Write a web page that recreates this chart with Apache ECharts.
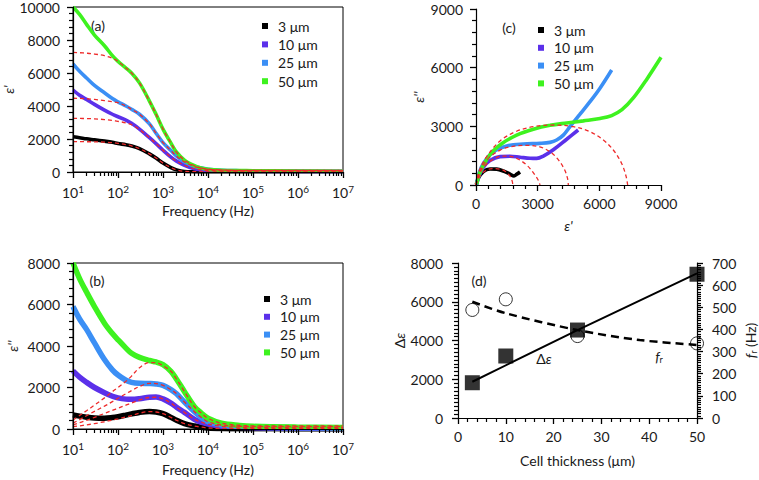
<!DOCTYPE html>
<html><head><meta charset="utf-8">
<script src="https://cdn.jsdelivr.net/npm/echarts@6/dist/echarts.min.js"></script>
<style>html,body{margin:0;padding:0;background:#fff}#c{width:759px;height:480px}</style>
</head><body><div id="c"></div>
<script>
// ---------- data ----------
const thickLabels = ['3 μm', '10 μm', '25 μm', '50 μm'];
const freq = [10,14,20,30,50,75,100,150,200,300,500,700,1000,1500,2000,3000,5000,7000,1e4,2e4,5e4,1e5,1e6,1e7];
// (a) epsilon' measured
const aBlack  = [2140,2080,2010,1950,1870,1800,1730,1650,1580,1420,1100,850,540,270,130,30,10,5,0,0,0,0,0,0];
const aPurple = [4970,4650,4400,4100,3750,3500,3350,3150,2950,2600,2080,1720,1320,900,660,410,190,125,90,60,50,45,35,30];
const aBlue   = [6550,6100,5700,5250,4800,4450,4250,4000,3800,3500,2920,2350,1780,1300,960,610,340,250,170,110,80,70,50,40];
const aGreen  = [10000,9550,8950,8300,7650,7050,6700,6300,6000,5400,4300,3500,2600,1750,1200,720,380,240,160,110,90,80,60,50];
// (a) epsilon' fits
const aFitBlack  = [1840,1838,1835,1830,1810,1780,1740,1660,1580,1420,1100,850,540,270,130,40,20,15,10,10,10,10,10,10];
const aFitPurple = [3250,3245,3240,3220,3180,3130,3070,2980,2870,2580,2080,1720,1320,900,660,410,190,130,90,70,60,60,60,60];
const aFitBlue   = [4470,4460,4440,4400,4330,4260,4200,4000,3800,3500,2920,2350,1780,1300,960,610,340,250,170,120,100,100,100,100];
const aFitGreen  = [7250,7230,7200,7150,7050,6900,6700,6300,6000,5400,4300,3500,2600,1750,1200,720,380,240,160,120,100,100,100,100];
// (b) epsilon'' measured
const bBlack  = [680,620,570,530,520,550,590,670,730,800,840,820,740,560,420,260,145,90,50,25,15,10,5,5];
const bPurple = [2800,2500,2250,2000,1750,1580,1500,1440,1430,1460,1530,1540,1450,1250,1050,800,465,330,240,130,80,60,40,30];
const bBlue   = [5900,5300,4800,4150,3350,2850,2600,2350,2250,2200,2190,2170,2100,1900,1700,1300,835,570,350,190,120,90,60,50];
const bGreen  = [8000,7250,6600,5900,5100,4600,4300,3900,3650,3450,3300,3230,3100,2780,2400,1800,1075,780,515,275,170,130,90,70];
// (b) epsilon'' fits
const bFitBlack  = [110,150,200,260,350,430,490,580,650,760,840,820,740,560,420,260,145,90,50,30,20,20,20,20];
const bFitPurple = [200,300,420,560,750,900,1000,1150,1250,1400,1520,1530,1450,1250,1050,800,465,330,240,130,90,80,80,80];
const bFitBlue   = [280,450,640,850,1100,1320,1480,1700,1850,2050,2200,2190,2100,1900,1700,1300,835,570,350,190,130,110,110,110];
const bFitGreen  = [430,650,880,1150,1500,1800,2000,2300,2550,2950,3200,3200,3050,2780,2400,1800,1075,780,515,275,180,150,150,150];
// (c) Cole-Cole  [epsilon', epsilon'']
const cBlack  = [[20,30],[100,320],[357,682],[681,818],[1005,810],[1330,716],[1654,562],[1849,460],[1978,545],[2141,665]];
const cPurple = [[30,30],[150,450],[357,900],[681,1250],[1168,1450],[1654,1470],[2141,1420],[2627,1370],[2951,1360],[3276,1480],[3762,1800],[4411,2340],[4970,2812]];
const cBlue   = [[30,30],[150,600],[357,1100],[843,1700],[1492,2000],[2303,2100],[3114,2130],[3600,2180],[3924,2300],[4249,2550],[4573,2983],[5059,3620],[5546,4260],[6032,4950],[6600,5880]];
const cGreen  = [[40,50],[195,650],[519,1300],[843,1750],[1300,2150],[1978,2550],[2789,2850],[3600,3050],[4411,3170],[5222,3280],[6032,3400],[6600,3550],[7100,3850],[7654,4450],[8303,5400],[9000,6530]];
const cFitBlack  = [[0,0],[100,300],[300,600],[600,800],[900,840],[1200,800],[1450,680],[1650,450],[1760,200],[1790,0]];
const cFitPurple = [[0,0],[150,550],[450,1000],[900,1350],[1300,1480],[1650,1460],[1978,1364],[2465,1023],[2870,511],[3050,200],[3114,0]];
const cFitBlue   = [[0,0],[200,700],[600,1350],[1200,1800],[1800,1980],[2465,2030],[3100,1950],[3600,1700],[4000,1300],[4300,800],[4450,350],[4492,0]];
const cFitGreen  = [[0,0],[150,700],[519,1449],[1168,2250],[1978,2750],[2789,2983],[3762,3068],[4735,2983],[5546,2727],[6195,2301],[6681,1790],[7086,1100],[7300,450],[7378,0]];
// (d)
const thickness = [3,10,25,50];
const deltaEps  = [1820,3200,4540,7420];
const relaxFreq = [488,536,370,337];
const deltaFitX = [3,25,50];
const deltaFitY = [1870,4540,7460];
const freqFitX  = [3,10,25,38,50];
const freqFitY  = [525,473,397,352,330];

// ---------- styling ----------
const FONT = 'Lato, "Open Sans", sans-serif';
const TXT = '#1a1a1a';
const colors = ['#000000', '#5b30ea', '#3b8ff5', '#3ef21f'];
const RED = '#ee2a2a';
const minorExp = [];
for (let n = 1; n < 7; n++) for (let k = 2; k <= 9; k++) minorExp.push(n + Math.log10(k));

const chart = echarts.init(document.getElementById('c'), null, {renderer: 'svg'});
const zip = (xs, ys) => xs.map((x, i) => [x, ys[i]]);

const grids = [
  {left: 73, top: 7, width: 270, height: 165, show: true, borderColor: '#000', borderWidth: 1},
  {left: 73, top: 263, width: 270, height: 166, show: true, borderColor: '#000', borderWidth: 1},
  {left: 476, top: 9, width: 185, height: 176},
  {left: 458, top: 263, width: 240, height: 155}
];

const plain = v => String(v);
const lbl = (extra) => Object.assign({color: TXT, fontSize: 14, fontFamily: FONT}, extra || {});
const axLine = () => ({show: true, onZero: false, lineStyle: {color: '#000', width: 1.2}});
const tick = (len) => ({show: true, length: len, lineStyle: {color: '#000', width: 1.3, opacity: 1, type: 'solid'}});
const minor = (n) => ({show: true, splitNumber: n, length: 4, lineStyle: {color: '#000', width: 1.2, opacity: 1, type: 'solid'}});

function logAxis(gi, gap, nameStr) {
  return {
    type: 'log', logBase: 10, gridIndex: gi, min: 10, max: 1e7, position: 'bottom', z: 10,
    axisLine: axLine(), axisTick: tick(6), splitLine: {show: false},
    axisLabel: lbl({margin: 12, formatter: v => '{b|10}{s|' + Math.round(Math.log10(v)) + '}',
      rich: {b: {fontSize: 14, lineHeight: 16, fontFamily: FONT, color: TXT},
             s: {fontSize: 10, lineHeight: 10, verticalAlign: 'top', fontFamily: FONT, color: TXT}}}),
    name: nameStr, nameLocation: 'middle', nameGap: gap, nameTextStyle: lbl()
  };
}
function minorAxis(gi) {
  return {
    type: 'value', gridIndex: gi, min: 1, max: 7, position: 'bottom', z: 10,
    axisLine: {show: false}, axisLabel: {show: false}, splitLine: {show: false},
    axisTick: {show: true, length: 4, customValues: minorExp, lineStyle: {color: '#000', width: 1.2, opacity: 1, type: 'solid'}}
  };
}
function valAxis(gi, min, max, interval, minorN, extra) {
  const base = {
    type: 'value', gridIndex: gi, min: min, max: max, interval: interval, z: 10,
    axisLine: axLine(), axisTick: tick(6), minorTick: minor(minorN), splitLine: {show: false}, minorSplitLine: {show: false},
    axisLabel: lbl({margin: 13, formatter: plain})
  };
  const out = Object.assign(base, extra || {});
  out.axisLabel = Object.assign({formatter: plain}, out.axisLabel);
  return out;
}

const xAxis = [
  logAxis(0, 31, 'Frequency (Hz)'),
  minorAxis(0),
  logAxis(1, 33, 'Frequency (Hz)'),
  minorAxis(1),
  valAxis(2, 0, 9000, 3000, 5, {name: "ε'", nameLocation: 'middle', nameGap: 33,
    nameTextStyle: lbl({fontStyle: 'italic'}), axisLabel: lbl({margin: 11})}),
  valAxis(3, 0, 50, 10, 5, {name: 'Cell thickness (μm)', nameLocation: 'middle', nameGap: 35,
    nameTextStyle: lbl(), axisLabel: lbl({margin: 11})})
];
const yAxis = [
  valAxis(0, 0, 10000, 2000, 5, {name: "ε'", nameLocation: 'middle', nameGap: 56, nameRotate: 90,
    nameTextStyle: lbl({fontStyle: 'italic'})}),
  valAxis(1, 0, 8000, 2000, 5, {name: "ε''", nameLocation: 'middle', nameGap: 54, nameRotate: 90,
    nameTextStyle: lbl({fontStyle: 'italic'})}),
  valAxis(2, 0, 9000, 3000, 5, {name: "ε''", nameLocation: 'middle', nameGap: 51, nameRotate: 90,
    nameTextStyle: lbl({fontStyle: 'italic'})}),
  valAxis(3, 0, 8000, 2000, 10, {position: 'left', name: '{n|Δ}{i|ε}', nameLocation: 'middle', nameGap: 46, nameRotate: 90,
    nameTextStyle: lbl({rich: {n: {fontSize: 14, fontFamily: FONT, color: TXT}, i: {fontSize: 14, fontStyle: 'italic', fontFamily: FONT, color: TXT}}}),
    axisLabel: lbl({margin: 15})}),
  valAxis(3, 0, 700, 100, 10, {position: 'right', name: '{i|f}{s|r}{n| (Hz)}', nameLocation: 'middle', nameGap: 45, nameRotate: 90,
    nameTextStyle: lbl({rich: {
      i: {fontSize: 14, fontStyle: 'italic', fontFamily: FONT, color: TXT, lineHeight: 16},
      s: {fontSize: 9, fontFamily: FONT, color: TXT, lineHeight: 9, verticalAlign: 'bottom'},
      n: {fontSize: 14, fontFamily: FONT, color: TXT, lineHeight: 16}}}),
    axisLabel: lbl({margin: 15})})
];

const series = [];
const measA = [aBlack, aPurple, aBlue, aGreen];
const fitA = [aFitBlack, aFitPurple, aFitBlue, aFitGreen];
const measB = [bBlack, bPurple, bBlue, bGreen];
const fitB = [bFitBlack, bFitPurple, bFitBlue, bFitGreen];
const measC = [cBlack, cPurple, cBlue, cGreen];
const fitC = [cFitBlack, cFitPurple, cFitBlue, cFitGreen];

function solid(name, data, xi, yi, color, w) {
  return {type: 'line', name: name, xAxisIndex: xi, yAxisIndex: yi, data: data, symbol: 'none', smooth: 0.35,
    lineStyle: {color: color, width: w}, itemStyle: {color: color}, z: 2, animation: false};
}
function dashed(name, data, xi, yi) {
  return {type: 'line', name: name, xAxisIndex: xi, yAxisIndex: yi, data: data, symbol: 'none', smooth: 0.35,
    lineStyle: {color: RED, width: 1.3, type: [4, 3]}, z: 3, animation: false};
}
for (let i = 0; i < 4; i++) series.push(solid(thickLabels[i], zip(freq, measA[i]), 0, 0, colors[i], 3.6));
for (let i = 0; i < 4; i++) series.push(dashed('fitA' + i, zip(freq, fitA[i]), 0, 0));
for (let i = 0; i < 4; i++) series.push(solid(thickLabels[i], zip(freq, measB[i]), 2, 1, colors[i], 5.5));
for (let i = 0; i < 4; i++) series.push(dashed('fitB' + i, zip(freq, fitB[i]), 2, 1));
for (let i = 0; i < 4; i++) series.push(solid(thickLabels[i], measC[i], 4, 2, colors[i], 3.6));
for (let i = 0; i < 4; i++) series.push(dashed('fitC' + i, fitC[i], 4, 2));

series.push({type: 'scatter', name: 'fr', xAxisIndex: 5, yAxisIndex: 4, data: zip(thickness, relaxFreq),
  symbol: 'circle', symbolSize: 13, itemStyle: {color: '#fff', borderColor: '#000', borderWidth: 1}, z: 2, animation: false});
series.push({type: 'line', name: 'frFit', xAxisIndex: 5, yAxisIndex: 4, data: zip(freqFitX, freqFitY),
  symbol: 'none', smooth: 0.3, lineStyle: {color: '#000', width: 2.5, type: [8, 5]}, z: 3, animation: false});
series.push({type: 'line', name: 'deFit', xAxisIndex: 5, yAxisIndex: 3, data: zip(deltaFitX, deltaFitY),
  symbol: 'none', lineStyle: {color: '#000', width: 2}, z: 4, animation: false});
series.push({type: 'scatter', name: 'de', xAxisIndex: 5, yAxisIndex: 3, data: zip(thickness, deltaEps),
  symbol: 'rect', symbolSize: 15, itemStyle: {color: '#000'}, z: 5, animation: false});

function legendAt(left, top, gap) {
  return {data: thickLabels, orient: 'vertical', left: left, top: top, padding: 0, itemGap: gap,
    icon: 'rect', itemWidth: 6, itemHeight: 6, selectedMode: false,
    textStyle: {fontSize: 14, lineHeight: 16, fontFamily: FONT, color: TXT, padding: [0, 0, 0, 5]}};
}

function label(x, y, text, rich) {
  const style = {text: text, font: '14px ' + FONT, fill: TXT, align: 'center', verticalAlign: 'middle'};
  if (rich) style.rich = rich;
  return {type: 'text', x: x, y: y, silent: true, style: style};
}
const richDe = {n: {fontSize: 14, fontFamily: FONT, fill: TXT}, i: {fontSize: 14, fontStyle: 'italic', fontFamily: FONT, fill: TXT}};
const richFr = {i: {fontSize: 14, fontStyle: 'italic', fontFamily: FONT, fill: TXT, lineHeight: 16},
                s: {fontSize: 9, fontFamily: FONT, fill: TXT, lineHeight: 9, verticalAlign: 'bottom'}};

chart.setOption({
  animation: false,
  grid: grids,
  xAxis: xAxis,
  yAxis: yAxis,
  legend: [legendAt(262, 18, 2.4), legendAt(264, 291, 1.8), legendAt(538, 22, 1.8)],
  series: series,
  graphic: [
    label(98, 25, '(a)'),
    label(97, 280, '(b)'),
    label(509, 27, '(c)'),
    label(479, 280, '(d)'),
    label(544, 358, '{n|Δ}{i|ε}', richDe),
    label(659, 356, '{i|f}{s|r}', richFr)
  ]
});
</script></body></html>
